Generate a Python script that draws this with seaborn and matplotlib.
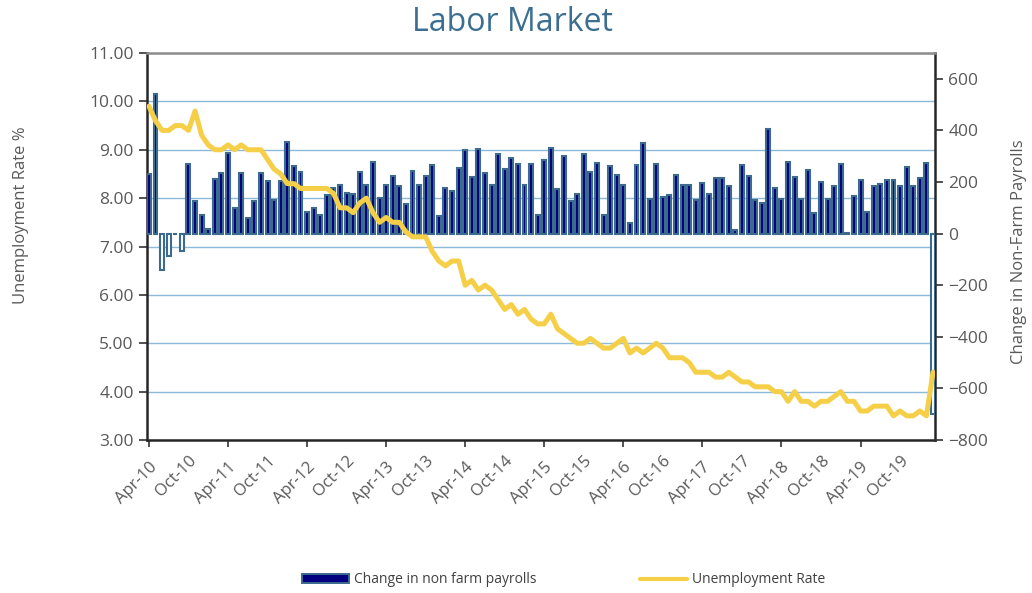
import numpy as np
import pandas as pd
import seaborn as sns
import matplotlib.pyplot as plt
from matplotlib.patches import Patch
from matplotlib.lines import Line2D
from matplotlib.ticker import FormatStrFormatter

# monthly data, Apr-2010 .. Mar-2020
months = pd.date_range("2010-04-01", periods=120, freq="MS")

payrolls = [
    232, 543, -140, -85, -3, -66, 268, 125, 74,
    18, 213, 236, 313, 100, 236, 61, 125, 233, 203, 132, 203,
    355, 262, 240, 83, 100, 74, 151, 175, 188, 158, 155, 240,
    190, 277, 138, 190, 223, 184, 113, 242, 188, 225, 264, 67,
    175, 167, 256, 326, 220, 329, 233, 188, 309, 252, 293, 268,
    190, 271, 71, 285, 331, 173, 302, 126, 155, 307, 238, 272,
    71, 263, 229, 188, 41, 267, 352, 136, 269, 142, 151, 229,
    188, 188, 129, 197, 155, 216, 216, 184, 13, 267, 225, 129,
    119, 406, 175, 136, 277, 220, 136, 245, 80, 200, 135, 184,
    268, 1, 147, 209, 84, 184, 193, 206, 207, 184, 260, 184,
    214, 274, -701,
]

unemployment = [
    9.9, 9.6, 9.4, 9.4, 9.5, 9.5, 9.4, 9.8, 9.3,
    9.1, 9.0, 9.0, 9.1, 9.0, 9.1, 9.0, 9.0, 9.0, 8.8, 8.6, 8.5,
    8.3, 8.3, 8.2, 8.2, 8.2, 8.2, 8.2, 8.1, 7.8, 7.8, 7.7, 7.9,
    8.0, 7.7, 7.5, 7.6, 7.5, 7.5, 7.3, 7.2, 7.2, 7.2, 6.9, 6.7,
    6.6, 6.7, 6.7, 6.2, 6.3, 6.1, 6.2, 6.1, 5.9, 5.7, 5.8, 5.6,
    5.7, 5.5, 5.4, 5.4, 5.6, 5.3, 5.2, 5.1, 5.0, 5.0, 5.1, 5.0,
    4.9, 4.9, 5.0, 5.1, 4.8, 4.9, 4.8, 4.9, 5.0, 4.9, 4.7, 4.7,
    4.7, 4.6, 4.4, 4.4, 4.4, 4.3, 4.3, 4.4, 4.3, 4.2, 4.2, 4.1,
    4.1, 4.1, 4.0, 4.0, 3.8, 4.0, 3.8, 3.8, 3.7, 3.8, 3.8, 3.9,
    4.0, 3.8, 3.8, 3.6, 3.6, 3.7, 3.7, 3.7, 3.5, 3.6, 3.5, 3.5,
    3.6, 3.5, 4.4,
]

month_labels = months.strftime("%b-%y").tolist()

NAVY = "#000080"
EDGE = "#3d6b8e"
YELLOW = "#f5cf47"
GRID = "#8dbad8"
TEXT = "#595959"
TITLE = "#3b6e91"

sns.set_style("white")
plt.rcParams["font.family"] = ["Open Sans", "DejaVu Sans"]

fig, ax = plt.subplots(figsize=(10.32, 5.93), dpi=100)
fig.subplots_adjust(left=0.1424, right=0.906, top=0.9106, bottom=0.258)
ax2 = ax.twinx()   # bars, right scale
ax3 = ax.twinx()   # line, same scale as left axis

x = np.arange(len(months))

sns.barplot(x=x, y=payrolls, native_scale=True, width=0.6, color=NAVY,
            saturation=1, edgecolor=EDGE, linewidth=1.5, ax=ax2)
for bar, v in zip(ax2.patches, payrolls):
    if v < 0:
        bar.set_facecolor("white")

sns.lineplot(x=x, y=unemployment, ax=ax3, color=YELLOW, linewidth=3.6,
             solid_joinstyle="round", solid_capstyle="round")

# left axis
ax.set_ylim(3, 11)
ax.set_yticks(np.arange(3, 12))
ax.yaxis.set_major_formatter(FormatStrFormatter("%.2f"))
ax.grid(axis="y", color=GRID, linewidth=1.0)
ax.grid(axis="x", visible=False)
ax.set_ylabel("Unemployment Rate %", fontsize=12, color=TEXT)
ax.yaxis.set_label_coords(-0.150, 0.58)

# right axis
ax2.set_ylim(-800, 700)
ax2.set_yticks(np.arange(-800, 601, 200))
ax2.set_ylabel("Change in Non-Farm Payrolls", fontsize=12, color=TEXT)
ax2.yaxis.set_label_coords(1.097, 0.486)
ax2.grid(False)

ax3.set_ylim(3, 11)
ax3.axis("off")

# x axis: ticks each year, labels each 6 months
ax.set_xlim(-0.3, 119.3)
ax.set_xticks(x[::12])
ax.set_xticklabels(month_labels[::12])
ax.set_xticks(x[6::12], minor=True)
ax.set_xticklabels(month_labels[6::12], minor=True)
for lab in ax.get_xticklabels(which="both"):
    lab.set_rotation(45)
    lab.set_ha("right")
    lab.set_rotation_mode("anchor")

ax.tick_params(axis="x", which="major", length=5, width=1.2, color="#333333",
               labelsize=12, labelcolor=TEXT, pad=9, direction="out", bottom=True)
ax.tick_params(axis="x", which="minor", length=0, labelsize=12,
               labelcolor=TEXT, pad=9, bottom=True)
ax.tick_params(axis="y", length=6, width=1.2, color="#333333", labelsize=12.5,
               labelcolor=TEXT, direction="out", left=True)
ax2.tick_params(axis="y", length=6, width=1.2, color="#333333", labelsize=12.5,
                labelcolor=TEXT, direction="out", right=True)

for name, sp in ax.spines.items():
    sp.set_visible(True)
    sp.set_linewidth(1.8)
    sp.set_color("#8c8c8c" if name == "top" else "#262626")
for sp in ax2.spines.values():
    sp.set_visible(False)

fig.text(0.497, 0.962, "Labor Market", ha="center", va="center",
         fontsize=23, color=TITLE)

handles = [
    Patch(facecolor=NAVY, edgecolor=EDGE, linewidth=1.4),
    Line2D([0], [0], color=YELLOW, linewidth=3),
]
fig.legend(handles, ["Change in non farm payrolls", "Unemployment Rate"],
           loc="center", bbox_to_anchor=(0.546, 0.022), ncol=2, frameon=False,
           fontsize=10, handlelength=3.4, columnspacing=7.5, handletextpad=0.3,
           labelcolor="#404040")

fig.savefig("out.png", dpi=100)
